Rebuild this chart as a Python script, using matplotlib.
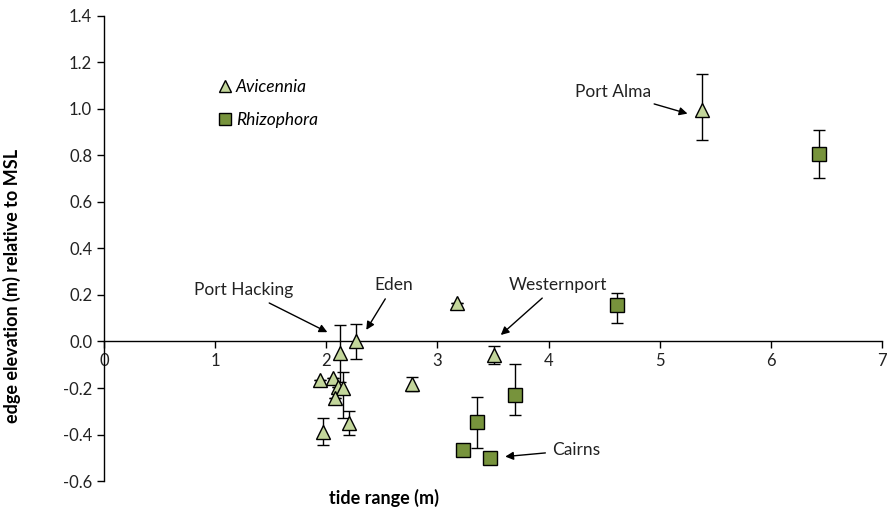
import matplotlib
matplotlib.use("Agg")
import matplotlib.pyplot as plt
from matplotlib.lines import Line2D

plt.rcParams.update({
    "font.family": ["Lato", "DejaVu Sans"],
    "font.size": 11,
    "axes.unicode_minus": False,
    "figure.facecolor": "white",
    "axes.facecolor": "white",
})

# Avicennia sites: tide range, edge elevation, error below / above
AVI_TIDE = [2.12, 2.27, 1.94, 2.06, 2.11, 2.15, 2.08, 2.20, 1.97, 2.77, 3.18, 3.51, 5.38]
AVI_ELEV = [-0.051, 0.00, -0.166, -0.156, -0.197, -0.201, -0.244, -0.349, -0.388,
            -0.183, 0.167, -0.058, 0.996]
AVI_ERR_LO = [0.122, 0.076, 0, 0, 0, 0.13, 0, 0.052, 0.059, 0.031, 0, 0.04, 0.13]
AVI_ERR_HI = [0.122, 0.076, 0, 0, 0, 0.07, 0, 0.052, 0.059, 0.031, 0, 0.04, 0.155]

# Rhizophora sites
RHI_TIDE = [3.70, 3.36, 3.23, 3.47, 4.62, 6.43]
RHI_ELEV = [-0.230, -0.345, -0.467, -0.502, 0.157, 0.806]
RHI_ERR_LO = [0.086, 0.115, 0, 0, 0.079, 0.103]
RHI_ERR_HI = [0.133, 0.108, 0, 0, 0.053, 0.104]

# site labels: text, (x, y) of arrow tip, (x, y) of text centre
SITES = ["Port Alma", "Port Hacking", "Eden", "Westernport", "Cairns"]
SITE_TIP = [(5.25, 0.98), (2.01, 0.04), (2.36, 0.05), (3.57, 0.028), (3.61, -0.495)]
SITE_TXT = [(4.58, 1.073), (1.26, 0.22), (2.61, 0.245), (4.08, 0.245), (4.25, -0.467)]

LIGHT = "#C3D69B"
DARK = "#77933C"

fig = plt.figure(figsize=(8.94, 5.15), dpi=100)
ax = fig.add_axes([0.1163, 0.066, 0.8703, 0.903])

ax.errorbar(AVI_TIDE, AVI_ELEV, yerr=[AVI_ERR_LO, AVI_ERR_HI], fmt="none",
            ecolor="black", elinewidth=1, capsize=4, capthick=1, zorder=3)
ax.errorbar(RHI_TIDE, RHI_ELEV, yerr=[RHI_ERR_LO, RHI_ERR_HI], fmt="none",
            ecolor="black", elinewidth=1, capsize=4, capthick=1, zorder=3)
ax.plot(AVI_TIDE, AVI_ELEV, ls="none", marker="^", ms=10, mfc=LIGHT,
        mec="black", mew=1, zorder=4)
ax.plot(RHI_TIDE, RHI_ELEV, ls="none", marker="s", ms=9.5, mfc=DARK,
        mec="black", mew=1, zorder=4)

for name, tip, txt in zip(SITES, SITE_TIP, SITE_TXT):
    ax.annotate(name, xy=tip, xytext=txt, ha="center", va="center",
                fontsize=12.5, color="#222222", zorder=5,
                arrowprops=dict(arrowstyle="-|>", color="black", lw=1,
                                mutation_scale=12, shrinkA=3, shrinkB=0))

ax.set_xlim(0, 7)
ax.set_ylim(-0.6, 1.4)
ax.set_xticks(range(0, 8))
ax.set_yticks([-0.6, -0.4, -0.2, 0.0, 0.2, 0.4, 0.6, 0.8, 1.0, 1.2, 1.4])
ax.yaxis.set_major_formatter(matplotlib.ticker.FormatStrFormatter("%.1f"))
ax.tick_params(direction="out", length=5, width=1, labelsize=12,
               colors="black", labelcolor="#222222")

ax.spines["top"].set_visible(False)
ax.spines["right"].set_visible(False)
ax.spines["bottom"].set_position(("data", 0))
for s in ("left", "bottom"):
    ax.spines[s].set_linewidth(1)

ax.set_xlabel("tide range (m)", fontsize=13, fontweight="bold")
ax.xaxis.set_label_coords(0.36, -0.018)
ax.set_ylabel("edge elevation (m) relative to MSL", fontsize=13, fontweight="bold")
ax.yaxis.set_label_coords(-0.107, 0.42)

handles = [
    Line2D([], [], ls="none", marker="^", ms=8, mfc=LIGHT, mec="black", mew=1),
    Line2D([], [], ls="none", marker="s", ms=8, mfc=DARK, mec="black", mew=1),
]
ax.legend(handles, ["Avicennia", "Rhizophora"], loc="upper left",
          bbox_to_anchor=(0.136, 0.884), frameon=False, borderpad=0,
          handlelength=0.8, handletextpad=0.2, labelspacing=1.0,
          prop={"style": "italic", "size": 12.5})

fig.savefig("out.png", dpi=100, facecolor="white")
